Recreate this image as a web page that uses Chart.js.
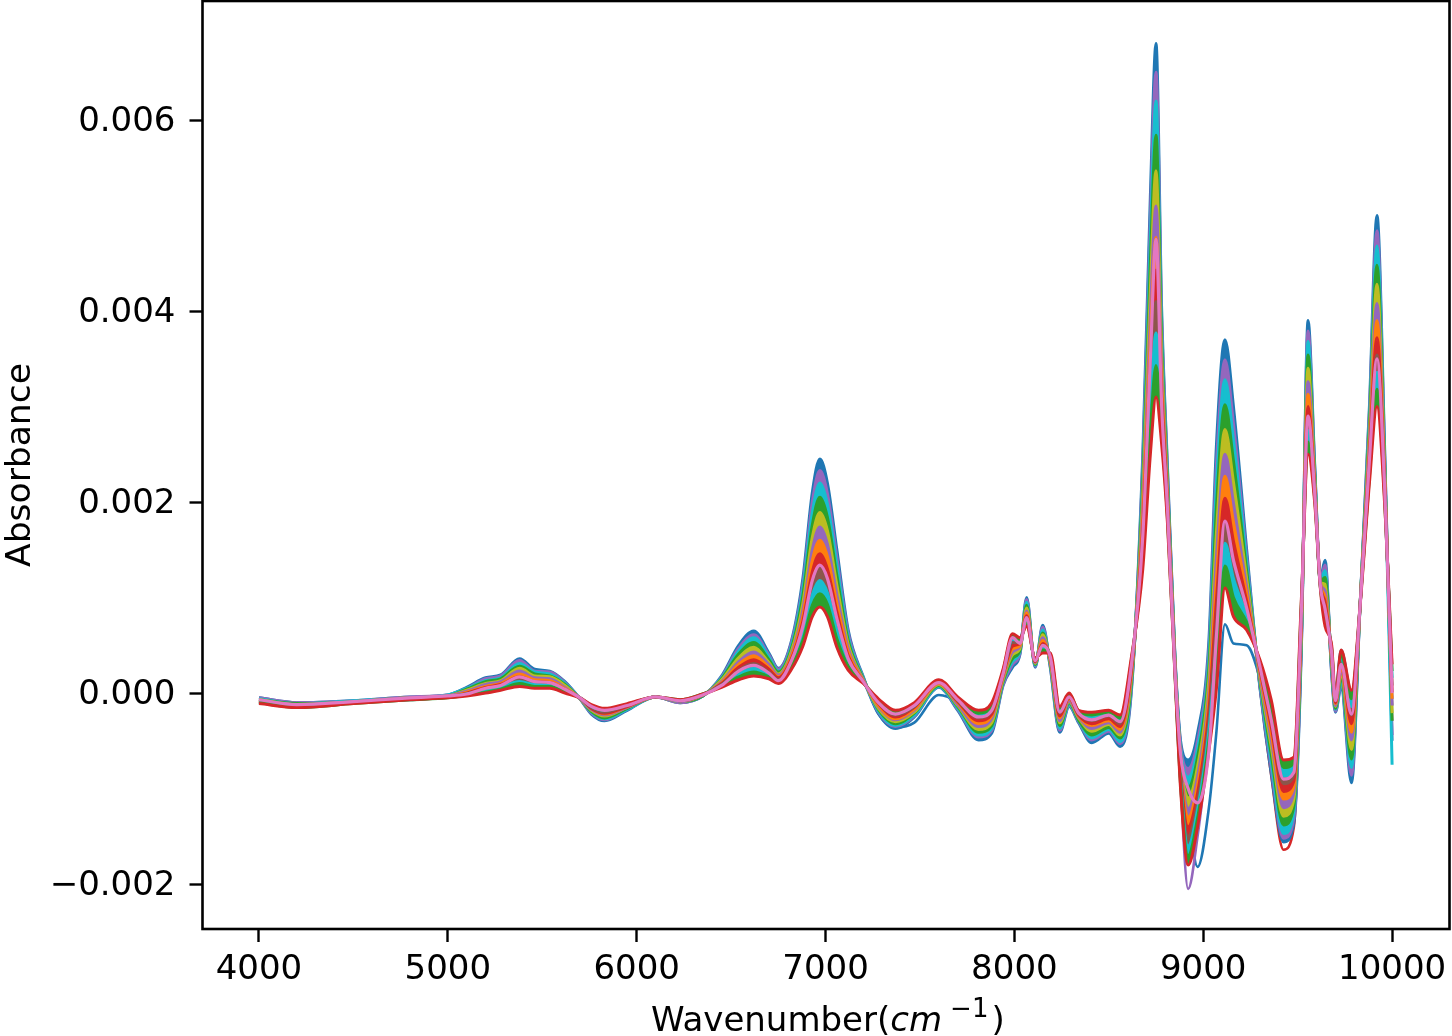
<!DOCTYPE html>
<html>
<head>
<meta charset="utf-8">
<style>
html,body{margin:0;padding:0;background:#fff;width:1452px;height:1036px;overflow:hidden}
canvas{position:absolute;left:0;top:0}
#xt{position:absolute;left:651px;top:999px;font:34px/40px "DejaVu Sans";color:#000;white-space:nowrap}
#xt i{font-style:oblique}
#xt sup{font-size:26px;line-height:0;vertical-align:14px;margin-left:8px;margin-right:3px}
</style>
<script src="https://cdn.jsdelivr.net/npm/chart.js@4/dist/chart.umd.js"></script>
</head>
<body>
<canvas id="c" width="1452" height="1036" style="width:1452px;height:1036px"></canvas>
<div id="xt">Wavenumber(<i>cm</i><sup>−1</sup>)</div>
<script>
const xTicks=[4000,5000,6000,7000,8000,9000,10000];
const yTicks=[-0.002,0,0.002,0.004,0.006];
const yTitle="Absorbance";
const absorbanceUnit=1e-4;
const wavenumbers=[4000,4200,4500,4800,5000, 5100,5200,5280,5380,5460,5540,5620,5700, 5760,5830,5950,6100,6230,6350,6450, 6540,6620,6700,6750, 6820,6880,6930,6970,7010,7060,7120,7200, 7280,7370,7470,7600,7700,7810,7880,7940, 7990,8030,8065,8110,8150,8190, 8240,8290,8340,8410,8500,8560,8620, 8680,8720,8750,8780,8810,8850, 8880,8920,8970,9030,9070, 9115,9160,9230,9300, 9360,9425,9480,9520, 9555,9590,9620,9645,9680,9700,9730, 9785,9830,9880,9920,9960,10000];

const outlierBlue=[-.9,-1.3,-1,-.6,-.4, .1,.7,1,2,1.4,1.3,.5,-.5, -1.6,-2.2,-1.4,-.4,-.8,-.2,1.1, 3,3.9,2.7,1.7, 3.9,8.1,13.9,16,14.3,9.4,4.3,1.3, -2.2,-3.6,-3.1,-.2,-1,-3.2,-2.4,1.7, 4.6,5,8.4,3.3,5.5,3.5, -2.6,-.6,-2.4,-3.4,-2.9,-3.8,2.2, 18.4,37.2,47.7,32.3,20.7,2.9, -5.5,-12,-18.2,-12,-4, 7.2,5.2,5,1.5, -4.2,-11.1,-9.8,7.8, 31.3,21.8,11.5,10.1,3.7,.2,4.5, .2,9,25.6,39,22.7,-.6];
const outlierPurple=[-.8,-1.2,-.9,-.5,-.3, .2,.9,1.2,2.3,1.6,1.5,.6,-.6, -1.7,-2.3,-1.5,-.4,-.9,-.2,1.2, 3.3,4.3,3,1.9, 4.1,8.7,15,17.4,15.6,10.3,4.7,1.4, -1.4,-2.8,-1.8,1,-1.2,-3.5,-2.7,1.6, 4.3,4.9,8.6,3.2,5.8,3.4, -2.9,-.8,-2.5,-3.7,-3.1,-4.1,1.9, 19.5,39.6,51,33.6,21.2,3.1, -9.5,-20.5,-15,-5,3, 16,12.5,9,2.5, -5,-12.5,-10.5,7.3, 32.6,22.2,11.5,10.7,3.4,-1.3,2.4, -8.8,9,26.3,40.8,23.2,-1.3];
const outlierRed=[-.7,-1.1,-.9,-.5,-.3, .4,1.2,1.5,2.8,2,1.8,.9,-.6, -1.9,-2.6,-1.6,-.4,-.9,-.3,1.5, 4.1,5.3,3.5,2.2, 4.7,10.2,17.6,20.5,18.4,12.3,5.5,1.5, -1.7,-3.2,-2.1,.8,-1.4,-4.1,-3.4,1.2, 3.6,4.5,9.2,3,6.3,3.1, -3.4,-1,-2.8,-4.4,-3.6,-4.7,1.2, 21.9,45,58.4,36.4,22.4,3.5, -6.3,-9.9,-6.7,2.5,19.4, 30.2,24.3,12.8,.6, -8.6,-16.4,-14,5.2, 35.4,23,11.7,12.1,2.8,-1.6,1.6, -6.9,9,27.9,44.8,24.4,-2.9];

const band01=[-.5,-1,-.8,-.4,-.2, .6,1.6,1.9,3.6,2.5,2.3,1.2,-.6, -2.2,-2.9,-1.8,-.4,-1,-.3,1.8, 5,6.5,4.2,2.6, 5.5,12,21,24.5,22,15,6.6,1.7, -2.1,-3.7,-2.5,.6,-1.8,-4.9,-4.2,.8, 2.7,4.1,10,2.7,7.1,2.7, -4.1,-1.4,-3.1,-5.2,-4.2,-5.6,.3, 25,52,68,40,24,4, -5,-7,-4.2,5.5,26, 37,30,15,.6, -8.4,-15.6,-13.6,5, 39,24,12,13.9,2,-2,.6, -9.4,9,30,50,26,-5];
const band02=[-.5,-1,-.8,-.4,-.2, .5,1.5,1.8,3.4,2.3,2.2,1.1,-.6, -2.1,-2.8,-1.7,-.4,-1,-.3,1.7, 4.7,6.1,4,2.5, 5.3,11.4,20,23.3,20.9,14.2,6.3,1.6, -2,-3.5,-2.4,.7,-1.7,-4.6,-3.9,.9, 3,4.2,9.8,2.8,6.9,2.8, -3.9,-1.3,-3,-4.9,-4,-5.3,.6, 24,50,65,38.9,23.5,3.8, -5.4,-7.9,-5,4.6,24, 34.9,28.2,14.3,.8, -7.8,-15.2,-13.1,5.4, 37.9,23.7,11.9,13.4,2.2,-1.9,.9, -8.6,9,29.4,48.4,25.5,-4.4];
const band03=[-.6,-1.1,-.8,-.5,-.2, .5,1.3,1.6,3.1,2.2,2,1,-.6, -2,-2.7,-1.7,-.4,-.9,-.3,1.6, 4.4,5.8,3.8,2.3, 5,10.9,18.9,22,19.8,13.4,5.9,1.6, -1.9,-3.4,-2.3,.7,-1.6,-4.4,-3.7,1.1, 3.3,4.4,9.5,2.9,6.6,3, -3.7,-1.2,-2.9,-4.7,-3.8,-5.1,.9, 23,47.7,62,37.8,23,3.7, -5.8,-8.8,-5.8,3.7,22, 32.8,26.5,13.7,1.1, -7.2,-14.7,-12.5,5.8, 36.8,23.4,11.8,12.8,2.5,-1.7,1.2, -7.8,9,28.7,46.8,25,-7.5];
const band04=[-.7,-1.1,-.9,-.5,-.3, .4,1.2,1.5,2.8,2,1.8,.9,-.6, -1.9,-2.6,-1.6,-.4,-.9,-.3,1.5, 4.1,5.3,3.5,2.2, 4.7,10.2,17.6,20.5,18.4,12.3,5.5,1.5, -1.7,-3.2,-2.1,.8,-1.4,-4.1,-3.4,1.2, 3.6,4.5,9.2,3,6.3,3.1, -3.4,-1,-2.8,-4.4,-3.6,-4.7,1.2, 21.9,45,58.4,36.4,22.4,3.5, -6.3,-9.9,-6.7,2.5,19.4, 30.2,24.3,12.8,1.4, -6.4,-13.8,-11.8,6.3, 35.4,23,11.7,12.1,2.8,-1.6,1.6, -6.9,9,27.9,44.8,24.4,-2.9];
const band05=[-.7,-1.2,-.9,-.5,-.3, .3,1,1.3,2.6,1.8,1.7,.8,-.6, -1.8,-2.4,-1.5,-.4,-.9,-.2,1.4, 3.7,4.8,3.2,2, 4.4,9.4,16.3,18.9,17,11.3,5.1,1.4, -1.6,-3,-2,.9,-1.3,-3.8,-3.1,1.4, 4,4.7,8.9,3.1,6.1,3.2, -3.1,-.9,-2.6,-4,-3.3,-4.4,1.6, 20.7,42.3,54.7,35,21.8,3.3, -6.8,-11,-7.7,1.4,16.8, 27.6,22.1,12,1.6, -5.6,-12.9,-11.1,6.8, 34,22.6,11.6,11.4,3.1,-1.4,2, -5.9,9,27.1,42.8,23.8,-2.1];
const band06=[-.8,-1.2,-.9,-.5,-.3, .2,.9,1.2,2.3,1.6,1.5,.6,-.6, -1.7,-2.3,-1.5,-.4,-.9,-.2,1.2, 3.3,4.3,3,1.9, 4.1,8.7,15,17.4,15.6,10.3,4.7,1.4, -1.4,-2.8,-1.8,1,-1.2,-3.5,-2.7,1.6, 4.3,4.9,8.6,3.2,5.8,3.4, -2.9,-.8,-2.5,-3.7,-3.1,-4.1,1.9, 19.5,39.6,51,33.6,21.2,3.1, -7.3,-12.1,-8.7,.2,14.3, 25,19.9,11.1,1.9, -4.9,-12,-10.4,7.3, 32.6,22.2,11.5,10.7,3.4,-1.3,2.4, -4.9,9,26.3,40.8,23.2,-1.3];
const band07=[-.8,-1.3,-1,-.6,-.4, .1,.7,1,2,1.4,1.3,.5,-.5, -1.6,-2.2,-1.4,-.4,-.8,-.2,1.1, 3,3.9,2.7,1.7, 3.9,8.1,13.9,16,14.3,9.4,4.3,1.3, -1.3,-2.7,-1.7,1,-1,-3.2,-2.4,1.7, 4.6,5,8.4,3.3,5.5,3.5, -2.6,-.6,-2.4,-3.4,-2.9,-3.8,2.2, 18.4,37.2,47.7,32.3,20.7,2.9, -7.8,-13,-9.6,-.8,12, 22.7,17.9,10.4,2.2, -4.2,-11.1,-9.8,7.8, 31.3,21.8,11.5,10.1,3.7,-1.1,2.7, -4.1,9,25.6,39,22.7,-.6];
const band08=[-.9,-1.3,-1,-.6,-.4, 0,.6,.9,1.7,1.2,1.1,.4,-.5, -1.6,-2.1,-1.4,-.4,-.8,-.2,1, 2.7,3.5,2.5,1.6, 3.6,7.5,12.7,14.6,13,8.5,3.9,1.2, -1.1,-2.5,-1.5,1.1,-.9,-2.9,-2.2,1.9, 4.9,5.2,8.1,3.3,5.2,3.7, -2.4,-.5,-2.3,-3.2,-2.7,-3.5,2.5, 17.3,34.7,44.3,31,20.2,2.7, -8.2,-14,-10.5,-1.9,9.7, 20.4,15.9,9.6,2.5, -3.5,-10.3,-9.2,8.2, 30,21.4,11.4,9.5,3.9,-1,3.1, -3.2,9,24.9,37.2,22.2,.1];
const band09=[-.9,-1.4,-1,-.6,-.4, -.1,.4,.7,1.5,1,1,.3,-.5, -1.5,-2,-1.3,-.4,-.8,-.2,.9, 2.4,3.1,2.2,1.4, 3.3,6.8,11.5,13.2,11.8,7.6,3.5,1.2, -1,-2.3,-1.4,1.2,-.8,-2.6,-1.9,2, 5.3,5.3,7.8,3.4,5,3.8, -2.1,-.4,-2.2,-2.9,-2.4,-3.2,2.9, 16.2,32.3,41,29.8,19.6,2.5, -8.7,-15,-11.4,-2.9,7.4, 18,13.9,8.9,2.7, -2.8,-9.5,-8.6,8.7, 28.8,21.1,11.3,8.9,4.2,-.8,3.4, -2.3,9,24.2,35.4,21.6,.8];
const band10=[-1,-1.4,-1,-.7,-.4, -.1,.3,.6,1.2,.9,.8,.2,-.5, -1.4,-1.8,-1.2,-.4,-.8,-.1,.8, 2,2.6,2,1.3, 3,6.2,10.3,11.8,10.5,6.6,3.2,1.1, -.9,-2.1,-1.3,1.3,-.6,-2.4,-1.6,2.2, 5.6,5.5,7.5,3.5,4.7,3.9, -1.9,-.3,-2,-2.6,-2.2,-2.9,3.2, 15.2,29.9,37.7,28.5,19.1,2.4, -9.1,-16,-12.2,-3.9,5.1, 15.7,12,8.1,3, -2.1,-8.7,-7.9,9.1, 27.5,20.7,11.2,8.2,4.5,-.7,3.8, -1.4,9,23.4,33.6,21.1,1.6];
const band11=[-1,-1.5,-1.1,-.7,-.5, -.2,.1,.4,1,.7,.7,.1,-.5, -1.3,-1.7,-1.2,-.4,-.7,-.1,.7, 1.7,2.2,1.7,1.1, 2.8,5.5,9.2,10.4,9.3,5.7,2.8,1.1, -.7,-2,-1.1,1.3,-.5,-2.1,-1.3,2.3, 5.9,5.6,7.3,3.6,4.5,4.1, -1.6,-.1,-1.9,-2.3,-2,-2.6,3.5, 14.1,27.4,34.3,27.3,18.5,2.2, -9.6,-17,-13.1,-5,2.8, 13.3,10,7.4,3.2, -1.4,-7.8,-7.3,9.6, 26.3,20.4,11.1,7.6,4.7,-.5,4.1, -.6,9,22.7,31.8,20.5,2.3];
const band12=[-1.1,-1.5,-1.1,-.7,-.5, -.3,0,.3,.7,.5,.5,0,-.5, -1.2,-1.6,-1.1,-.4,-.7,-.1,.6, 1.4,1.8,1.5,1, 2.5,4.9,8,9,8,4.8,2.4,1, -.6,-1.8,-1,1.4,-.4,-1.8,-1,2.5, 6.2,5.8,7,3.7,4.2,4.2, -1.4,0,-1.8,-2,-1.8,-2.3,3.8, 13,25,31,26,18,2, -10,-18,-14,-6,.5, 11,8,6.6,3.5, -.7,-7,-6.7,10, 25,20,11,7,5,-.4,4.5, .3,9,22,30,20,3];
const topPink=[-.7,-1.2,-.9,-.5,-.3, -.1,.5,.8,1.7,1.2,1.1,.4,-.5, -1.4,-1.8,-1.3,-.4,-.8,-.2,.8, 2.3,2.9,2.1,1.3, 3.4,7,11.8,13.4,12,7.8,3.6,1.2, -1,-2.2,-1.3,1.1,-.7,-2.5,-1.8,2, 5.8,5.2,7.9,3.4,5,3.8, -2,-.4,-2.1,-2.8,-2.3,-3,3, 16.5,35,47.5,30,19.6,2.5, -6.4,-10,-11.5,-6,6, 18,13.9,8.9,2.8, -2.8,-9,-8.3,8.7, 29,21,11.3,8.8,4.2,-.8,3, -2.2,9,24.4,35,21.8,0];

const c={blue:"#1f77b4",orange:"#ff7f0e",green:"#2ca02c",red:"#d62728",purple:"#9467bd",brown:"#8c564b",pink:"#e377c2",gray:"#7f7f7f",olive:"#bcbd22",cyan:"#17becf"};
const outliers=[[outlierBlue,c.blue],[outlierPurple,c.purple],[outlierRed,c.red]];
const bands=[[band01,c.blue],[band02,c.purple],[band03,c.cyan],[band04,c.green],[band05,c.olive],[band06,c.purple],[band07,c.orange],[band08,c.red],[band09,c.brown],[band10,c.cyan],[band11,c.green],[band12,c.red]];

function ds(values,color,fill,idx,w){
  return {data:values.map((v,i)=>({x:wavenumbers[i],y:v*absorbanceUnit})),borderColor:color,backgroundColor:color,borderWidth:w,pointRadius:0,cubicInterpolationMode:"monotone",fill:fill,order:-idx,borderJoinStyle:"round"};
}
const datasets=[];
outliers.forEach(o=>datasets.push(ds(o[0],o[1],false,datasets.length,2.6)));
bands.forEach((b,i)=>datasets.push(ds(b[0],b[1],i<bands.length-1?"+1":false,datasets.length,3)));
datasets.push(ds(topPink,c.pink,false,datasets.length,3.2));

const frame={id:"frame",
  beforeDraw(ch){ch.scales.y.getLabelItems().forEach(it=>{it.options.translation[1]+=2.5;});},
  afterDraw(ch){const a=ch.chartArea,g=ch.ctx;g.save();g.strokeStyle="#000";g.lineWidth=2.6;g.strokeRect(a.left,a.top,a.right-a.left,a.bottom-a.top);g.restore();}};
const tickFont={family:"DejaVu Sans",size:34};
const titleFont={family:"DejaVu Sans",size:34.5};
new Chart(document.getElementById("c"),{
  type:"line",
  data:{datasets},
  plugins:[frame],
  options:{
    responsive:false,animation:false,devicePixelRatio:1,
    layout:{padding:{top:1,right:2.5,left:0,bottom:0}},
    plugins:{legend:{display:false},tooltip:{enabled:false}},
    events:[],
    scales:{
      x:{type:"linear",min:3701,max:10304,
        afterBuildTicks(s){s.ticks=xTicks.map(v=>({value:v}));},
        afterFit(s){s.height=107;s.paddingLeft=0;s.paddingRight=0;},
        grid:{display:true,drawOnChartArea:false,drawTicks:true,tickLength:13,tickWidth:2.4,tickColor:"#000"},
        border:{display:false},
        ticks:{font:tickFont,color:"#000",padding:8,maxRotation:0,autoSkip:false,callback:v=>String(v)}
      },
      y:{type:"linear",min:-0.00247,max:0.007246,
        afterBuildTicks(s){s.ticks=yTicks.map(v=>({value:v}));},
        afterFit(s){s.width=202.5;s.paddingTop=0;s.paddingBottom=0;},
        grid:{display:true,drawOnChartArea:false,drawTicks:true,tickLength:13,tickWidth:2.4,tickColor:"#000"},
        border:{display:false},
        title:{display:true,text:yTitle,font:titleFont,color:"#000",padding:0},
        ticks:{font:tickFont,color:"#000",padding:14,autoSkip:false,callback:v=>(v<0?"−":"")+Math.abs(v).toFixed(3)}
      }
    }
  }
});
</script>
</body>
</html>
